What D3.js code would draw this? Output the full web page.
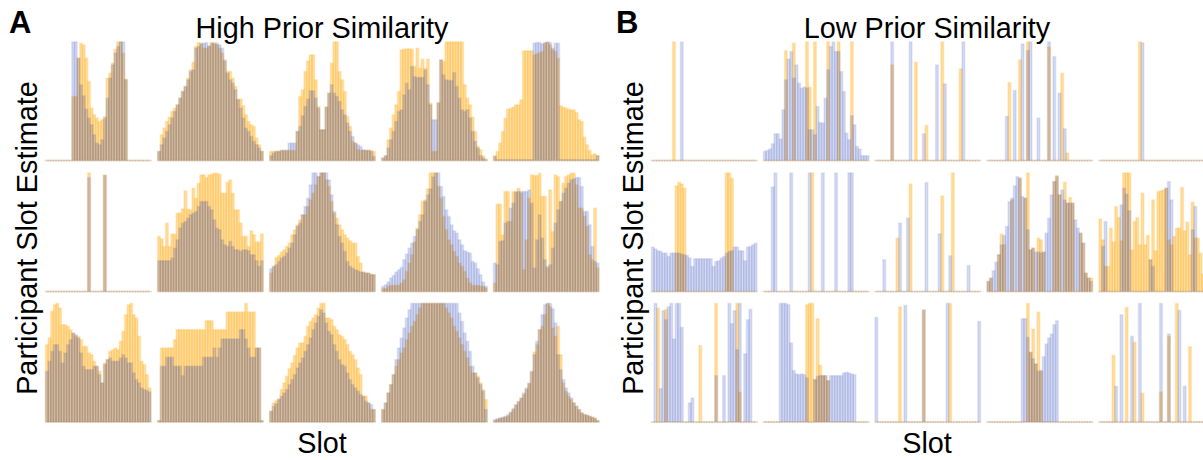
<!DOCTYPE html>
<html>
<head>
<meta charset="utf-8">
<script src="https://cdn.jsdelivr.net/npm/d3@7"></script>
<style>
body{margin:0;background:#fff;}
text{font-family:"Liberation Sans",Arial,sans-serif;fill:#000;}
</style>
</head>
<body>
<div id="chart"></div>
<script>
// heights, 356 = top of a panel. 40 bins per panel
var a11Orange=[0,0,0,0,0,0,0,0,0,0,192,192,307,352,347,307,237,157,137,127,117,122,132,247,262,292,334,356,356,322,244,0,0,0,0,0,0,0,0,0];
var a11Blue=[0,0,0,0,0,0,0,0,0,0,356,356,307,227,194,154,127,107,77,52,47,62,127,187,247,287,322,342,356,356,242,0,0,0,0,0,0,0,0,0];
var a12Orange=[27,77,97,117,130,147,157,167,187,207,222,247,272,295,342,354,352,337,337,342,354,354,347,337,322,297,267,267,247,222,184,184,164,137,117,107,102,67,47,27];
var a12Blue=[27,47,67,87,107,127,147,167,187,207,222,242,267,272,337,342,350,352,354,344,352,350,352,347,337,302,262,242,232,212,182,157,127,97,87,72,57,47,37,27];
var a13Orange=[27,27,27,27,30,30,30,30,30,30,87,192,212,267,299,317,317,242,162,92,92,160,202,292,356,356,267,242,207,132,102,57,52,32,30,30,30,30,30,27];
var a13Blue=[14,22,27,27,30,30,30,52,52,52,87,102,134,162,184,209,209,187,157,92,92,160,202,227,202,192,177,152,137,112,87,72,52,47,42,32,30,30,27,12];
var a14Orange=[7,14,62,97,137,167,207,332,334,335,335,334,282,337,277,304,277,304,172,27,27,174,302,297,356,356,356,356,356,356,356,227,187,167,130,87,42,32,14,4];
var a14Blue=[7,14,37,62,87,117,147,152,197,232,212,282,252,249,249,249,272,227,167,122,122,172,302,257,242,240,240,264,222,187,152,147,152,127,87,57,37,14,7,2];
var a15Orange=[14,27,52,87,127,154,156,160,167,167,182,329,329,329,329,317,320,324,327,352,354,347,332,327,307,164,160,157,154,152,152,144,122,117,70,47,30,17,20,14];
var a15Blue=[12,2,2,2,2,2,2,2,2,2,2,2,2,2,2,352,354,354,350,354,356,354,337,352,352,2,2,2,2,2,2,2,2,2,2,2,2,2,2,14];

var a21Orange=[[16,356],[22,350]];
var a21Blue=[[16,342],[22,348]];
var a22Orange=[165,158,135,205,135,172,172,235,235,248,302,247,245,310,280,325,350,350,342,350,352,355,355,352,295,295,328,335,295,245,245,205,165,165,135,182,170,148,148,173];
var a22Blue=[92,92,92,92,92,100,130,155,190,205,210,220,230,235,240,255,270,270,270,255,245,215,190,185,155,140,135,150,135,125,125,120,125,125,122,110,110,92,75,92];
var a23Orange=[55,75,102,108,118,125,135,145,170,185,200,215,230,230,255,275,295,320,345,356,356,335,315,270,235,220,200,185,170,160,152,145,145,105,85,58,55,55,52,50];
var a23Blue=[68,75,80,90,100,105,115,130,145,170,195,205,230,255,280,320,356,356,345,356,356,356,335,290,240,200,165,145,120,90,75,70,65,62,58,58,55,55,50,50];
var a24Orange=[8,8,15,18,18,18,18,25,35,60,85,110,148,190,230,270,275,308,356,356,356,315,280,225,185,155,140,120,105,85,75,60,40,25,18,18,18,15,15,10];
var a24Blue=[15,20,28,40,48,58,65,72,95,112,130,145,165,185,210,230,270,290,308,344,356,356,315,285,245,225,200,182,175,155,140,122,118,115,90,85,68,50,28,15];
var a25Orange=[25,262,262,170,300,300,210,300,300,310,295,65,155,280,350,348,348,355,285,285,70,305,180,350,345,270,325,345,350,355,355,320,250,250,225,195,110,95,250,70];
var a25Blue=[85,80,150,152,205,210,250,265,298,300,300,300,300,305,265,70,155,230,160,95,75,80,130,205,245,270,295,310,325,335,338,342,342,315,240,240,200,135,90,85];

var a31Orange=[232,252,332,352,356,342,292,292,287,277,267,257,257,247,227,227,207,202,182,167,152,117,177,187,212,217,222,217,242,272,322,352,356,322,312,257,182,172,142,102];
var a31Blue=[152,182,212,232,232,212,177,207,232,247,267,262,252,207,167,157,157,157,167,167,142,117,172,187,192,182,182,182,192,202,192,177,177,147,127,117,102,97,94,90];
var a32Orange=[4,222,222,222,222,222,247,277,277,277,277,277,277,277,277,277,277,277,304,304,304,277,277,277,277,277,330,330,330,330,330,330,330,356,330,330,330,222,222,4];
var a32Blue=[4,167,167,194,194,194,167,167,167,139,167,167,167,167,167,167,167,194,194,194,194,222,194,222,249,249,249,249,249,249,249,277,277,249,222,194,194,222,222,4];
var a33Orange=[32,57,64,70,97,117,137,160,177,200,222,237,237,257,287,302,312,322,342,356,356,312,312,307,287,277,262,257,247,232,212,202,187,162,142,77,77,57,37,37];
var a33Blue=[32,47,54,67,77,87,97,112,127,142,162,177,192,212,232,252,277,297,317,337,327,297,272,262,232,212,187,172,167,147,127,112,102,92,82,77,62,57,52,37];
var a34Orange=[37,57,87,112,142,167,187,207,222,247,267,287,302,322,342,356,356,356,356,356,356,356,356,356,342,327,312,287,272,252,232,212,192,167,147,147,137,117,97,67];
var a34Blue=[37,57,87,112,142,187,222,252,282,312,337,356,356,356,356,356,356,356,356,356,356,356,356,356,356,356,356,356,356,327,302,267,242,212,167,147,132,112,92,37];
var a35Orange=[4,7,10,12,14,17,27,37,50,60,70,82,97,114,150,210,232,277,287,322,356,347,282,257,287,202,117,92,77,67,57,47,37,27,22,20,17,14,12,4];
var a35Blue=[7,10,12,14,17,22,30,40,52,62,72,87,102,117,152,202,242,277,322,352,356,356,340,297,202,157,127,102,87,72,57,47,37,27,22,20,17,14,10,4];

// right group, mostly empty so [bin,height] pairs
var b11Orange=[[8,356]];
var b11Blue=[[11,356]];
var b12Orange=[[8,330],[11,352],[16,356],[17,220],[19,356],[24,356],[28,356],[33,356]];
var b12Blue=[27,30,34,50,80,80,64,152,242,304,327,247,287,232,217,220,217,92,92,77,162,114,112,187,272,342,356,327,327,267,207,82,62,134,107,42,34,14,14,14];
var b13Orange=[[6,287],[15,295],[19,105],[25,356],[32,275]];
var b13Blue=[[6,356],[13,356],[18,80],[23,287],[26,230],[33,356]];
var b14Orange=[[8,234],[12,302],[15,356],[23,340],[28,262],[30,22]];
var b14Blue=[[7,132],[10,210],[13,350],[15,330],[16,356],[19,127],[23,356],[25,312],[27,202],[29,95]];
var b15Orange=[[15,356]];
var b15Blue=[[16,354]];

var b21Orange=[[9,317],[10,328],[11,323],[12,310],[28,356],[29,356],[30,340]];
var b21Blue=[133,128,122,120,115,115,105,115,115,115,115,112,110,108,100,75,98,98,98,98,98,98,98,75,90,92,100,105,115,120,122,133,133,122,122,92,133,135,140,145];
var b22Orange=[[18,356]];
var b22Blue=[[3,314],[4,356],[10,356],[17,356],[22,356],[27,356],[32,356],[33,356]];
var b23Orange=[[8,160],[13,323],[25,287],[29,356]];
var b23Blue=[[3,95],[9,205],[12,220],[19,327],[24,173],[28,107],[35,78]];
var b24Orange=[30,40,0,0,110,172,140,0,0,275,0,0,340,0,280,356,125,130,0,160,155,118,0,0,0,330,348,290,0,328,265,282,265,0,0,175,145,55,40,40];
var b24Blue=[30,40,62,88,110,140,168,195,270,280,317,345,340,285,280,185,125,130,118,118,115,118,175,220,290,330,345,290,305,275,265,265,265,215,190,175,145,55,40,30];
var b25Orange=[218,155,75,75,190,148,255,222,152,356,356,356,125,210,222,140,295,140,168,95,275,122,300,302,305,310,155,140,165,190,190,312,182,208,110,268,160,160,115,52];
var b25Blue=[[1,135],[2,210],[8,260],[9,310],[10,292],[11,242],[19,95],[20,75],[25,310],[26,330],[27,275],[35,185],[36,255]];

var b31Orange=[[2,342],[5,338],[18,229],[24,356],[32,356],[33,89]];
var b31Blue=[[1,356],[3,100],[4,334],[5,307],[6,346],[7,356],[8,249],[9,356],[10,356],[11,284],[14,57],[15,72],[24,139],[27,139],[29,356],[30,295],[31,334],[32,217],[33,356],[35,205],[36,307],[37,338]];
var b32Orange=[[16,352],[17,356],[18,356],[19,127],[20,310],[21,170],[22,139],[23,139],[24,124]];
var b32Blue=[[6,356],[7,356],[8,356],[9,352],[10,237],[11,154],[12,144],[13,142],[14,144],[15,142],[16,132],[19,127],[20,137],[21,139],[22,139],[23,139],[24,124],[25,139],[26,139],[27,139],[28,139],[29,139],[30,147],[31,149],[32,147],[33,144],[34,142]];
var b33Orange=[[9,346],[18,335],[28,356]];
var b33Blue=[[0,314],[11,350],[18,337],[27,356],[39,302]];
var b34Orange=[[15,356],[16,209],[17,279],[18,174],[19,330],[20,152]];
var b34Blue=[[13,310],[14,310],[15,254],[16,209],[17,190],[18,174],[19,152],[20,155],[21,196],[22,234],[23,252],[24,264],[25,292],[26,304]];
var b35Orange=[[5,200],[10,344],[13,239],[16,86],[23,90],[26,257],[29,356],[34,226]];
var b35Blue=[[6,107],[8,322],[12,257],[15,356],[23,356],[26,264],[30,335],[32,107]];

var bins=d3.range(40);
var yMax=356;

var colsA=[45.5,157.7,269.7,381.7,493.5];
var colsB=[651.5,763.5,875,987,1099];
var rowBase=[160.5,291.5,422];
var pw=105.5, ph=118.5;

var orangeCol='#ffa500', blueCol='#1432b4';

// expand [bin,height] pairs to a full 40 long list
function full(arr){
    if(arr.length==40) return arr;
    var out=new Array(40).fill(0);
    arr.forEach(function(d){ out[d[0]]=d[1]; });
    return out;
}

var groupA=[[[a11Orange,a11Blue],[a12Orange,a12Blue],[a13Orange,a13Blue],[a14Orange,a14Blue],[a15Orange,a15Blue]],
            [[a21Orange,a21Blue],[a22Orange,a22Blue],[a23Orange,a23Blue],[a24Orange,a24Blue],[a25Orange,a25Blue]],
            [[a31Orange,a31Blue],[a32Orange,a32Blue],[a33Orange,a33Blue],[a34Orange,a34Blue],[a35Orange,a35Blue]]];
var groupB=[[[b11Orange,b11Blue],[b12Orange,b12Blue],[b13Orange,b13Blue],[b14Orange,b14Blue],[b15Orange,b15Blue]],
            [[b21Orange,b21Blue],[b22Orange,b22Blue],[b23Orange,b23Blue],[b24Orange,b24Blue],[b25Orange,b25Blue]],
            [[b31Orange,b31Blue],[b32Orange,b32Blue],[b33Orange,b33Blue],[b34Orange,b34Blue],[b35Orange,b35Blue]]];

var svg=d3.select('#chart').append('svg')
        .attr('width',1203)
        .attr('height',460)
        .style('display','block');

var x=d3.scaleBand().domain(bins).range([0,pw]);
var y=d3.scaleLinear().domain([0,yMax]).range([ph,0]);

function drawPanel(cx,base,series){
    var g=svg.append('g')
        .attr('transform','translate('+cx+','+(base-ph)+')')
        .style('filter','blur(0.55px)');
    [[series[0],orangeCol,0.36,0.2],[series[1],blueCol,0.17,0.1]].forEach(function(s){
        g.append('g').selectAll('rect')
            .data(full(s[0]))
            .enter().append('rect')
            .attr('x',function(d,i){ return x(i); })
            .attr('y',function(d){ return y(d); })
            .attr('width',x.bandwidth())
            // zero bins still leave the small line along the bottom
            .attr('height',function(d){ return Math.max(0.05,ph-y(d)); })
            .attr('fill',s[1])
            .attr('fill-opacity',s[2])
            .attr('stroke',s[1])
            .attr('stroke-opacity',s[3])
            .attr('stroke-width',1.6);
    });
}

groupA.forEach(function(row,r){
    row.forEach(function(p,c){ drawPanel(colsA[c],rowBase[r],p); });
});
groupB.forEach(function(row,r){
    row.forEach(function(p,c){ drawPanel(colsB[c],rowBase[r],p); });
});

function label(txt,px,py,size,weight,anchor,rot){
    var t=svg.append('text')
        .attr('x',px).attr('y',py)
        .attr('font-size',size)
        .attr('font-weight',weight)
        .attr('text-anchor',anchor)
        .text(txt);
    if(rot) t.attr('transform','rotate(-90,'+px+','+py+')');
}

label('A',9,33,31,'bold','start');
label('B',616,33,31,'bold','start');
label('High Prior Similarity',322,38,28.8,'normal','middle');
label('Low Prior Similarity',927,38,28.8,'normal','middle');
label('Participant Slot Estimate',37,238,28.8,'normal','middle',true);
label('Participant Slot Estimate',643,238,28.8,'normal','middle',true);
label('Slot',322,453,28.8,'normal','middle');
label('Slot',927,453,28.8,'normal','middle');
</script>
</body>
</html>
